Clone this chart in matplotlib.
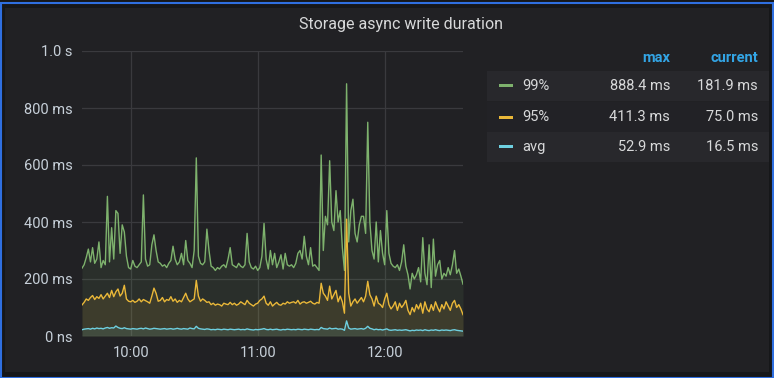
import matplotlib
matplotlib.use('Agg')
import matplotlib.pyplot as plt
import matplotlib.dates as mdates
from matplotlib.patches import Rectangle
import pandas as pd

# one sample per minute, 09:37 -> 12:37
times = pd.date_range('2020-01-01 09:37', periods=181, freq='1min')

p99 = [238, 250, 275, 305, 260, 310, 255, 270, 330, 240,
       265, 250, 490, 260, 380, 270, 440, 430, 290, 390,
       365, 280, 240, 235, 265, 245, 240, 250, 260, 495,
       270, 245, 250, 320, 355, 300, 260, 255, 245, 250,
       240, 255, 265, 315, 270, 250, 260, 290, 250, 335,
       265, 255, 240, 300, 625, 280, 255, 250, 260, 375,
       300, 245, 240, 230, 240, 235, 245, 250, 240, 270,
       310, 250, 245, 240, 255, 245, 240, 250, 360, 260,
       240, 235, 245, 230, 240, 280, 395, 270, 235, 300,
       250, 290, 240, 260, 285, 235, 290, 250, 245, 250,
       240, 255, 290, 300, 270, 350, 280, 250, 310, 245,
       250, 240, 230, 635, 300, 420, 390, 615, 400, 370,
       510, 400, 440, 310, 230, 885, 330, 440, 480, 360,
       330, 390, 420, 420, 360, 750, 400, 300, 270, 400,
       260, 370, 290, 250, 440, 290, 255, 245, 240, 250,
       230, 260, 320, 245, 215, 165, 220, 200, 215, 240,
       190, 345, 220, 180, 320, 170, 340, 210, 250, 265,
       200, 220, 210, 240, 215, 250, 300, 220, 235, 210,
       182]

p95 = [109, 118, 130, 125, 135, 142, 128, 138, 132, 145,
       130, 140, 150, 135, 160, 138, 155, 165, 140, 150,
       178, 130, 122, 120, 125, 118, 122, 130, 120, 128,
       124, 120, 115, 140, 168, 150, 122, 125, 135, 120,
       128, 125, 138, 122, 130, 118, 125, 120, 135, 150,
       130, 120, 125, 130, 195, 140, 122, 130, 125, 118,
       120, 110, 115, 108, 112, 110, 105, 115, 112, 110,
       118, 110, 115, 108, 112, 120, 115, 110, 125, 115,
       110, 105, 112, 115, 125, 130, 140, 115, 108, 120,
       105, 112, 118, 110, 108, 115, 112, 120, 115, 118,
       120, 115, 125, 112, 118, 120, 115, 118, 122, 115,
       112, 118, 115, 185, 150, 140, 125, 175, 130, 145,
       160, 120, 140, 120, 80, 410, 150, 105, 120, 130,
       115, 125, 135, 120, 140, 192, 145, 130, 105, 140,
       115, 110, 100, 130, 150, 110, 95, 105, 120, 90,
       115, 100, 110, 125, 90, 75, 100, 85, 110, 95,
       115, 80, 120, 95, 85, 110, 90, 120, 100, 85,
       110, 95, 120, 105, 90, 115, 125, 100, 110, 95,
       75]

avg = [22, 24, 25, 26, 24, 27, 25, 28, 26, 27,
       25, 28, 30, 27, 29, 28, 35, 30, 27, 26,
       29, 26, 25, 24, 26, 25, 24, 26, 27, 25,
       28, 26, 24, 25, 27, 26, 25, 24, 25, 26,
       24, 25, 26, 24, 25, 27, 25, 24, 26, 25,
       24, 28, 26, 25, 34, 27, 25, 24, 23, 25,
       24, 22, 23, 22, 24, 23, 22, 24, 23, 22,
       24, 23, 22, 23, 24, 22, 23, 22, 25, 23,
       22, 21, 23, 22, 23, 24, 26, 23, 22, 24,
       22, 23, 24, 22, 21, 23, 22, 24, 23, 22,
       23, 22, 24, 23, 22, 24, 23, 22, 24, 23,
       22, 23, 22, 30, 26, 25, 24, 28, 25, 26,
       27, 24, 25, 24, 20, 53, 28, 24, 25, 26,
       24, 25, 26, 24, 27, 34, 27, 25, 22, 24,
       22, 23, 21, 23, 25, 21, 20, 21, 22, 20,
       21, 20, 21, 22, 20, 18, 20, 19, 21, 20,
       21, 19, 22, 20, 19, 21, 20, 22, 20, 19,
       21, 20, 21, 20, 19, 21, 22, 20, 19, 18,
       17]

series_names = ['99%', '95%', 'avg']
series_colors = ['#7eb26d', '#eab839', '#6ed0e0']
max_labels = ['888.4 ms', '411.3 ms', '52.9 ms']
current_labels = ['181.9 ms', '75.0 ms', '16.5 ms']

yticks = [0, 200, 400, 600, 800, 1000]
ytick_labels = ['0 ns', '200 ms', '400 ms', '600 ms', '800 ms', '1.0 s']

text_col = '#d8d9da'
panel_col = '#212124'
fs = 10.5

fig = plt.figure(figsize=(7.74, 3.78), dpi=100, facecolor='#161719')

# panel background and blue selection border
fig.patches.append(Rectangle((5 / 774, 6 / 378), 764 / 774, 364 / 378,
                             transform=fig.transFigure, facecolor=panel_col,
                             edgecolor='none', zorder=-2))
fig.patches.append(Rectangle((0.5 / 774, 0.5 / 378), 772 / 774, 375 / 378,
                             transform=fig.transFigure, facecolor='none',
                             edgecolor='#2f6fe0', lw=1.5, zorder=-1))

fig.text(401 / 774, 1 - 24 / 378, 'Storage async write duration', color=text_col,
         fontsize=11.5, ha='center', va='center', family='Roboto')

ax = fig.add_axes([82 / 774, 42 / 378, 381 / 774, 285 / 378])
ax.set_zorder(3)
ax.set_facecolor(panel_col)

for vals, col in zip([p99, p95, avg], series_colors):
    ax.plot(times, vals, color=col, lw=1.0, zorder=3)
    ax.fill_between(times, 0, vals, color=col, alpha=0.1, lw=0, zorder=2)

ax.set_xlim(times[0], times[-1])
ax.set_ylim(0, 1000)
ax.set_yticks(yticks)
ax.set_yticklabels(ytick_labels)
ax.xaxis.set_major_locator(mdates.HourLocator())
ax.xaxis.set_major_formatter(mdates.DateFormatter('%H:%M'))
ax.grid(True, color='#3a3a3e', lw=0.9)
ax.set_axisbelow(True)
for s in ax.spines.values():
    s.set_visible(False)
ax.tick_params(length=0, colors='#c7d0d9', labelsize=fs, pad=7)
for lab in ax.get_xticklabels() + ax.get_yticklabels():
    lab.set_family('Roboto')

# legend table on the right
fig.text(670 / 774, 1 - 58 / 378, 'max', color='#33a5e5', fontsize=fs,
         ha='right', va='center', family='Roboto', weight='bold')
fig.text(758 / 774, 1 - 58 / 378, 'current', color='#33a5e5', fontsize=fs,
         ha='right', va='center', family='Roboto', weight='bold')

row_y = [86, 117, 147]
row_bg = ['#28282c', '#222226', '#28282c']
for i, name in enumerate(series_names):
    y = 1 - row_y[i] / 378
    fig.patches.append(Rectangle((487 / 774, y - 15 / 378), 282 / 774, 30 / 378,
                                 transform=fig.transFigure, facecolor=row_bg[i],
                                 edgecolor='none', zorder=-1))
    fig.patches.append(Rectangle((499 / 774, y - 1.5 / 378), 14 / 774, 3 / 378,
                                 transform=fig.transFigure, facecolor=series_colors[i],
                                 edgecolor='none', zorder=2))
    fig.text(522 / 774, y, name, color=text_col, fontsize=fs, ha='left',
             va='center', family='Roboto')
    fig.text(670 / 774, y, max_labels[i], color=text_col, fontsize=fs,
             ha='right', va='center', family='Roboto')
    fig.text(758 / 774, y, current_labels[i], color=text_col, fontsize=fs,
             ha='right', va='center', family='Roboto')

fig.savefig('out.png', dpi=100, facecolor=fig.get_facecolor())
